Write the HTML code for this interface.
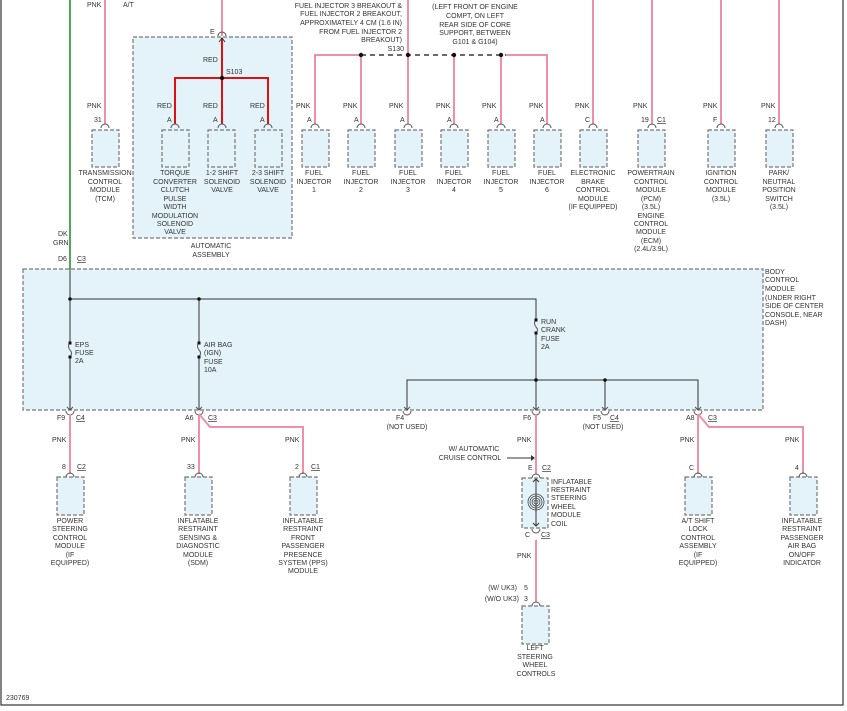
<!DOCTYPE html>
<html><head><meta charset="utf-8"><style>
html,body{margin:0;padding:0;background:#fff;}
svg{display:block;}
text{font-family:"Liberation Sans",sans-serif;font-size:7px;fill:#333;}
.m{text-anchor:middle}
.e{text-anchor:end}
.box{fill:#e4f3f9;stroke:#777;stroke-width:1.2;stroke-dasharray:4,2}
.pk{stroke:#f08fa8;stroke-width:2;fill:none}
.rd{stroke:#e01010;stroke-width:2;fill:none}
.bk{stroke:#333;stroke-width:1;fill:none}
.arc{stroke:#555;stroke-width:1;fill:none}
</style></head><body>
<svg width="847" height="711" viewBox="0 0 847 711" xmlns="http://www.w3.org/2000/svg">
<rect x="1" y="-2" width="842" height="707" fill="#fff" stroke="#333" stroke-width="1.2"/>

<line x1="70" y1="0" x2="70" y2="269" stroke="#1a8a1a" stroke-width="1.5"/>
<text x="58" y="236">DK</text><text x="53" y="245">GRN</text>
<text x="58" y="261">D6</text><text x="77" y="261" text-decoration="underline">C3</text>

<rect x="23" y="269" width="740" height="141" class="box"/>
<text x="765" y="274">BODY</text><text x="765" y="282">CONTROL</text><text x="765" y="291">MODULE</text>
<text x="765" y="300">(UNDER RIGHT</text><text x="765" y="308">SIDE OF CENTER</text><text x="765" y="317">CONSOLE, NEAR</text><text x="765" y="325">DASH)</text>

<path class="bk" d="M70 269V343M70 357V410M70 299H536V320M536 333V410M199 299V343M199 357V410M407 410V380H698V410M605 380V410"/>
<path class="arc" d="M70 343q-3 3 0 7q3 3 0 7M199 343q-3 3 0 7q3 3 0 7M536 320q-3 3 0 7q3 3 0 6"/>
<g fill="#111"><circle cx="70" cy="299" r="1.8"/><circle cx="199" cy="299" r="1.8"/><circle cx="536" cy="380" r="1.8"/><circle cx="605" cy="380" r="1.8"/>
<rect x="68.5" y="341.5" width="3" height="3"/><rect x="68.5" y="355.5" width="3" height="3"/><rect x="197.5" y="341.5" width="3" height="3"/><rect x="197.5" y="355.5" width="3" height="3"/><rect x="534.5" y="318.5" width="3" height="3"/><rect x="534.5" y="331.5" width="3" height="3"/></g>
<text x="75" y="347">EPS</text><text x="75" y="355">FUSE</text><text x="75" y="363">2A</text>
<text x="204" y="347">AIR BAG</text><text x="204" y="355">(IGN)</text><text x="204" y="364">FUSE</text><text x="204" y="372">10A</text>
<text x="541" y="324">RUN</text><text x="541" y="332">CRANK</text><text x="541" y="341">FUSE</text><text x="541" y="349">2A</text>
<path class="arc" d="M67 407l3 3 3-3M196 407l3 3 3-3M404 407l3 3 3-3M533 407l3 3 3-3M602 407l3 3 3-3M695 407l3 3 3-3"/>
<path class="arc" d="M66 411a4 4 0 0 0 8 0M195 411a4 4 0 0 0 8 0M403 411a4 4 0 0 0 8 0M532 411a4 4 0 0 0 8 0M601 411a4 4 0 0 0 8 0M694 411a4 4 0 0 0 8 0"/>
<text x="57" y="420">F9</text><text x="76" y="420" text-decoration="underline">C4</text>
<text x="185" y="420">A6</text><text x="208" y="420" text-decoration="underline">C3</text>
<text x="396" y="420">F4</text><text x="407" y="429" class="m">(NOT USED)</text>
<text x="523" y="420">F6</text>
<text x="593" y="420">F5</text><text x="610" y="420" text-decoration="underline">C4</text><text x="603" y="429" class="m">(NOT USED)</text>
<text x="686" y="420">A8</text><text x="708" y="420" text-decoration="underline">C3</text>

<path class="pk" d="M70 414V474M199 414V474M199 414L210 427H303V474M536 414V474M536 540V602M698 414V474M698 414L709 427H803V474"/>
<text x="52" y="442">PNK</text><text x="181" y="442">PNK</text><text x="285" y="442">PNK</text><text x="517" y="442">PNK</text><text x="680" y="442">PNK</text><text x="785" y="442">PNK</text>
<text x="474" y="451" class="m">W/ AUTOMATIC</text><text x="470" y="460" class="m">CRUISE CONTROL</text>
<path class="bk" d="M507 458H532"/><path d="M531 455l4 3-4 3z" fill="#333"/>

<g>
<rect x="57" y="477" width="27" height="38" class="box"/><path class="arc" d="M66 477a4 4 0 0 1 8 0"/>
<text x="62" y="469">8</text><text x="77" y="469" text-decoration="underline">C2</text>
<text class="m" x="70" y="523">POWER</text><text class="m" x="70" y="531">STEERING</text><text class="m" x="70" y="540">CONTROL</text><text class="m" x="70" y="548">MODULE</text><text class="m" x="70" y="557">(IF</text><text class="m" x="70" y="565">EQUIPPED)</text>

<rect x="185" y="477" width="27" height="38" class="box"/><path class="arc" d="M195 477a4 4 0 0 1 8 0"/>
<text x="187" y="469">33</text>
<text class="m" x="198" y="523">INFLATABLE</text><text class="m" x="198" y="531">RESTRAINT</text><text class="m" x="198" y="540">SENSING &amp;</text><text class="m" x="198" y="548">DIAGNOSTIC</text><text class="m" x="198" y="557">MODULE</text><text class="m" x="198" y="565">(SDM)</text>

<rect x="290" y="477" width="27" height="38" class="box"/><path class="arc" d="M299 477a4 4 0 0 1 8 0"/>
<text x="295" y="469">2</text><text x="311" y="469" text-decoration="underline">C1</text>
<text class="m" x="303" y="523">INFLATABLE</text><text class="m" x="303" y="531">RESTRAINT</text><text class="m" x="303" y="540">FRONT</text><text class="m" x="303" y="548">PASSENGER</text><text class="m" x="303" y="557">PRESENCE</text><text class="m" x="303" y="565">SYSTEM (PPS)</text><text class="m" x="303" y="573">MODULE</text>

<rect x="522" y="478" width="26" height="50" class="box"/><path class="arc" d="M532 478a4 4 0 0 1 8 0M532 529a4 4 0 0 0 8 0"/>
<path class="bk" d="M536 479V526M533 482l3-3 3 3M533 523l3 3 3-3"/>
<g fill="none" stroke="#444" stroke-width="0.8"><circle cx="536" cy="502" r="2"/><circle cx="536" cy="502" r="4"/><circle cx="536" cy="502" r="6"/><circle cx="536" cy="502" r="8"/></g>
<text x="528" y="470">E</text><text x="542" y="470" text-decoration="underline">C2</text>
<text x="525" y="537">C</text><text x="541" y="537" text-decoration="underline">C3</text>
<text x="551" y="484">INFLATABLE</text><text x="551" y="492">RESTRAINT</text><text x="551" y="500">STEERING</text><text x="551" y="509">WHEEL</text><text x="551" y="517">MODULE</text><text x="551" y="526">COIL</text>
<text x="517" y="558">PNK</text>
<text x="517" y="590" class="e">(W/ UK3)</text><text x="524" y="590">5</text>
<text x="519" y="601" class="e">(W/O UK3)</text><text x="524" y="601">3</text>
<rect x="522" y="606" width="27" height="38" class="box"/><path class="arc" d="M532 606a4 4 0 0 1 8 0"/>
<text class="m" x="535" y="650">LEFT</text><text class="m" x="535" y="659">STEERING</text><text class="m" x="535" y="667">WHEEL</text><text class="m" x="536" y="676">CONTROLS</text>

<rect x="685" y="477" width="27" height="38" class="box"/><path class="arc" d="M694 477a4 4 0 0 1 8 0"/>
<text x="689" y="470">C</text>
<text class="m" x="698" y="523">A/T SHIFT</text><text class="m" x="698" y="531">LOCK</text><text class="m" x="698" y="540">CONTROL</text><text class="m" x="698" y="548">ASSEMBLY</text><text class="m" x="698" y="557">(IF</text><text class="m" x="698" y="565">EQUIPPED)</text>

<rect x="790" y="477" width="27" height="38" class="box"/><path class="arc" d="M799 477a4 4 0 0 1 8 0"/>
<text x="795" y="470">4</text>
<text class="m" x="802" y="523">INFLATABLE</text><text class="m" x="802" y="531">RESTRAINT</text><text class="m" x="802" y="540">PASSENGER</text><text class="m" x="802" y="548">AIR BAG</text><text class="m" x="802" y="557">ON/OFF</text><text class="m" x="802" y="565">INDICATOR</text>
</g>
<text x="6" y="700">230769</text>

<text x="87" y="7">PNK</text><text x="123" y="7">A/T</text>
<rect x="133" y="37" width="159" height="201" class="box"/>
<text class="m" x="211" y="248">AUTOMATIC</text><text class="m" x="211" y="257">ASSEMBLY</text>
<path class="pk" d="M105 0V124M222 0V36M315 124V55H361M408 0V124M361 55V124M454 55V124M501 55V124M506 55H547V124M593 0V124M652 0V124M721 0V124M779 0V124"/>
<path class="rd" d="M222 38V124M175 124V78H268V124"/>
<path d="M219 42l3-4 3 4" class="bk"/>
<path class="arc" d="M218 36a4 4 0 0 1 8 0"/>
<text x="210" y="34">E</text>
<circle cx="222" cy="78" r="2.2" fill="#111"/>
<text x="226" y="74">S103</text>
<text x="203" y="62">RED</text><text x="157" y="108">RED</text><text x="203" y="108">RED</text><text x="250" y="108">RED</text>
<path d="M361 55H506" stroke="#111" stroke-width="1.2" stroke-dasharray="5,4"/>
<g fill="#111"><circle cx="361" cy="55" r="2.2"/><circle cx="408" cy="55" r="2.2"/><circle cx="454" cy="55" r="2.2"/><circle cx="501" cy="55" r="2.2"/></g>
<text class="e" x="402" y="8">FUEL INJECTOR 3 BREAKOUT &amp;</text>
<text class="e" x="402" y="16">FUEL INJECTOR 2 BREAKOUT,</text>
<text class="e" x="402" y="25">APPROXIMATELY 4 CM (1.6 IN)</text>
<text class="e" x="402" y="34">FROM FUEL INJECTOR 2</text>
<text class="e" x="402" y="42">BREAKOUT)</text>
<text class="e" x="404" y="51">S130</text>
<text class="m" x="475" y="9">(LEFT FRONT OF ENGINE</text>
<text class="m" x="475" y="18">COMPT, ON LEFT</text>
<text class="m" x="475" y="27">REAR SIDE OF CORE</text>
<text class="m" x="475" y="35">SUPPORT, BETWEEN</text>
<text class="m" x="475" y="44">G101 &amp; G104)</text>

<g>
<text x="87" y="108">PNK</text><text x="94" y="122">31</text>
<rect x="92" y="130" width="27" height="37" class="box"/><path class="arc" d="M101 128a4 4 0 0 1 8 0"/>
<text class="m" x="105" y="175">TRANSMISSION</text><text class="m" x="105" y="184">CONTROL</text><text class="m" x="105" y="192">MODULE</text><text class="m" x="105" y="201">(TCM)</text>

<text x="167" y="122">A</text><rect x="162" y="130" width="27" height="37" class="box"/><path class="arc" d="M171 128a4 4 0 0 1 8 0"/>
<text class="m" x="175" y="175">TORQUE</text><text class="m" x="175" y="184">CONVERTER</text><text class="m" x="175" y="192">CLUTCH</text><text class="m" x="175" y="201">PULSE</text><text class="m" x="175" y="209">WIDTH</text><text class="m" x="175" y="218">MODULATION</text><text class="m" x="175" y="226">SOLENOID</text><text class="m" x="175" y="234">VALVE</text>

<text x="213" y="122">A</text><rect x="208" y="130" width="27" height="37" class="box"/><path class="arc" d="M218 128a4 4 0 0 1 8 0"/>
<text class="m" x="222" y="175">1-2 SHIFT</text><text class="m" x="222" y="184">SOLENOID</text><text class="m" x="222" y="192">VALVE</text>

<text x="260" y="122">A</text><rect x="255" y="130" width="27" height="37" class="box"/><path class="arc" d="M264 128a4 4 0 0 1 8 0"/>
<text class="m" x="268" y="175">2-3 SHIFT</text><text class="m" x="268" y="184">SOLENOID</text><text class="m" x="268" y="192">VALVE</text>

<text x="296" y="108">PNK</text><text x="307" y="122">A</text><rect x="302" y="130" width="27" height="37" class="box"/><path class="arc" d="M311 128a4 4 0 0 1 8 0"/>
<text class="m" x="314" y="175">FUEL</text><text class="m" x="314" y="184">INJECTOR</text><text class="m" x="314" y="192">1</text>
<text x="343" y="108">PNK</text><text x="354" y="122">A</text><rect x="348" y="130" width="27" height="37" class="box"/><path class="arc" d="M357 128a4 4 0 0 1 8 0"/>
<text class="m" x="361" y="175">FUEL</text><text class="m" x="361" y="184">INJECTOR</text><text class="m" x="361" y="192">2</text>
<text x="389" y="108">PNK</text><text x="400" y="122">A</text><rect x="395" y="130" width="27" height="37" class="box"/><path class="arc" d="M404 128a4 4 0 0 1 8 0"/>
<text class="m" x="408" y="175">FUEL</text><text class="m" x="408" y="184">INJECTOR</text><text class="m" x="408" y="192">3</text>
<text x="436" y="108">PNK</text><text x="447" y="122">A</text><rect x="441" y="130" width="27" height="37" class="box"/><path class="arc" d="M450 128a4 4 0 0 1 8 0"/>
<text class="m" x="454" y="175">FUEL</text><text class="m" x="454" y="184">INJECTOR</text><text class="m" x="454" y="192">4</text>
<text x="482" y="108">PNK</text><text x="494" y="122">A</text><rect x="488" y="130" width="27" height="37" class="box"/><path class="arc" d="M497 128a4 4 0 0 1 8 0"/>
<text class="m" x="501" y="175">FUEL</text><text class="m" x="501" y="184">INJECTOR</text><text class="m" x="501" y="192">5</text>
<text x="529" y="108">PNK</text><text x="540" y="122">A</text><rect x="534" y="130" width="27" height="37" class="box"/><path class="arc" d="M543 128a4 4 0 0 1 8 0"/>
<text class="m" x="547" y="175">FUEL</text><text class="m" x="547" y="184">INJECTOR</text><text class="m" x="547" y="192">6</text>

<text x="575" y="108">PNK</text><text x="585" y="122">C</text><rect x="580" y="130" width="27" height="37" class="box"/><path class="arc" d="M589 128a4 4 0 0 1 8 0"/>
<text class="m" x="593" y="175">ELECTRONIC</text><text class="m" x="593" y="184">BRAKE</text><text class="m" x="593" y="192">CONTROL</text><text class="m" x="593" y="201">MODULE</text><text class="m" x="593" y="209">(IF EQUIPPED)</text>

<text x="633" y="108">PNK</text><text x="641" y="122">19</text><text x="657" y="122" text-decoration="underline">C1</text><rect x="638" y="130" width="27" height="37" class="box"/><path class="arc" d="M648 128a4 4 0 0 1 8 0"/>
<text class="m" x="651" y="175">POWERTRAIN</text><text class="m" x="651" y="184">CONTROL</text><text class="m" x="651" y="192">MODULE</text><text class="m" x="651" y="201">(PCM)</text><text class="m" x="651" y="209">(3.5L)</text><text class="m" x="651" y="218">ENGINE</text><text class="m" x="651" y="226">CONTROL</text><text class="m" x="651" y="234">MODULE</text><text class="m" x="651" y="243">(ECM)</text><text class="m" x="651" y="251">(2.4L/3.9L)</text>

<text x="703" y="108">PNK</text><text x="713" y="122">F</text><rect x="708" y="130" width="27" height="37" class="box"/><path class="arc" d="M717 128a4 4 0 0 1 8 0"/>
<text class="m" x="721" y="175">IGNITION</text><text class="m" x="721" y="184">CONTROL</text><text class="m" x="721" y="192">MODULE</text><text class="m" x="721" y="201">(3.5L)</text>

<text x="761" y="108">PNK</text><text x="768" y="122">12</text><rect x="766" y="130" width="27" height="37" class="box"/><path class="arc" d="M775 128a4 4 0 0 1 8 0"/>
<text class="m" x="779" y="175">PARK/</text><text class="m" x="779" y="184">NEUTRAL</text><text class="m" x="779" y="192">POSITION</text><text class="m" x="779" y="201">SWITCH</text><text class="m" x="779" y="209">(3.5L)</text>
</g>
</svg>
</body></html>
